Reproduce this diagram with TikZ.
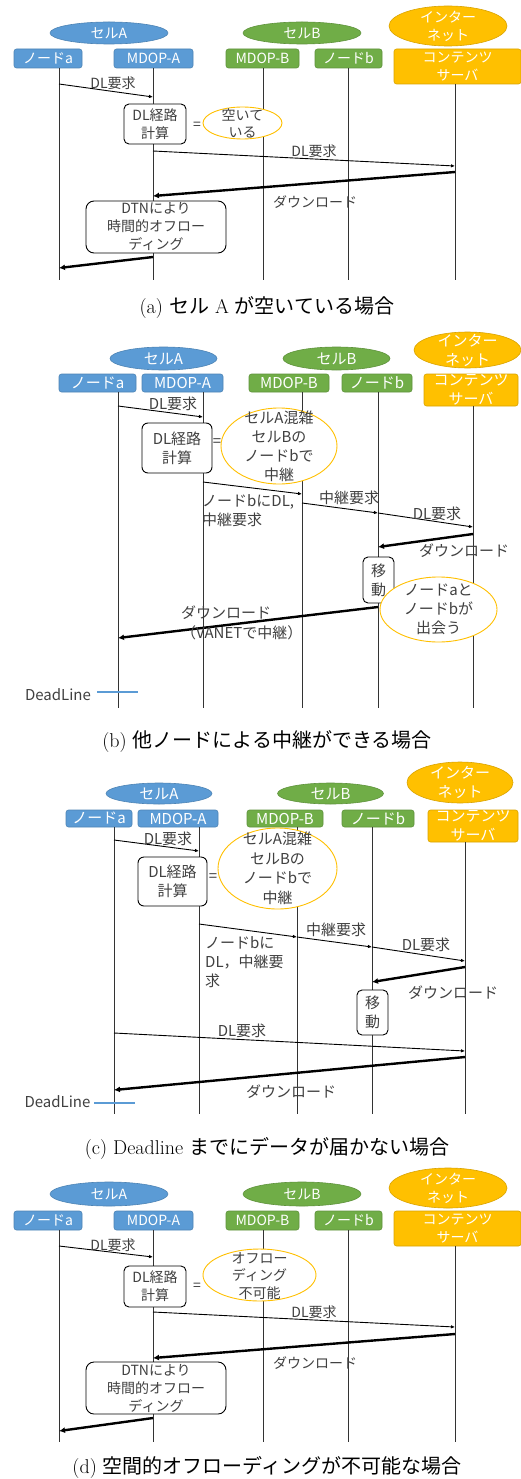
\documentclass[tikz,border=0pt]{standalone}
\usepackage{fontspec}
\newfontfamily\jp{Noto Sans CJK JP}
\usetikzlibrary{shapes.geometric,arrows.meta}
\definecolor{cblue}{HTML}{5B9BD5}
\definecolor{cgreen}{HTML}{70AD47}
\definecolor{corange}{HTML}{FFC000}
\definecolor{txt}{HTML}{404040}
\tikzset{
  fa/.style={font=\jp\fontsize{14}{18}\selectfont},
  fb/.style={font=\jp\fontsize{15}{19}\selectfont},
  shp/.style={ellipse, inner sep=0pt, line width=0.6pt},
  elA/.style={shp, fill=cblue, draw=cblue!85!black},
  elB/.style={shp, fill=cgreen, draw=cgreen!85!black},
  elI/.style={shp, fill=corange, draw=corange!85!black},
  wtxt/.style={text=white, inner sep=0pt, align=center},
  actor/.style={rectangle, rounded corners=2.5pt, inner sep=0pt, text=white, align=center, line width=0.6pt},
  acA/.style={actor, fill=cblue, draw=cblue!85!black},
  acB/.style={actor, fill=cgreen, draw=cgreen!85!black},
  acI/.style={actor, fill=corange, draw=corange!85!black},
  life/.style={draw=black!80, line width=0.8pt},
  msg/.style={draw=black, line width=0.9pt, -{Latex[length=4pt,width=3.5pt]}},
  dl/.style={draw=black, line width=2.4pt, -{Latex[length=6pt,width=6pt]}},
  proc/.style={rectangle, draw=black, fill=white, line width=0.9pt, align=center, text=txt, inner sep=0pt},
  note/.style={ellipse, draw=corange, fill=white, line width=0.9pt, inner sep=0pt},
  lbl/.style={text=txt, inner sep=0pt, align=center},
  lbll/.style={text=txt, inner sep=0pt, align=left, anchor=north west},
  capt/.style={inner sep=0pt, font=\fontsize{20}{24}\selectfont, text=black},
  dead/.style={draw=cblue, line width=2pt},
}
\begin{document}
\begin{tikzpicture}[x=1pt,y=-1pt]
\useasboundingbox (0,0) rectangle (521,1479);
\fill[white] (0,0) rectangle (521,1479);

%================ panel (a)
\begin{scope}[fa]
\node[elA, minimum width=118pt, minimum height=22pt] (a-cA) at (109,33) {};
\node[wtxt] (a-cAt) at (a-cA) {セルA};
\node[elB, minimum width=118pt, minimum height=22pt] (a-cB) at (302,33) {};
\node[wtxt] (a-cBt) at (a-cB) {セルB};
\node[elI, minimum width=118pt, minimum height=40pt] (a-cI) at (448,26) {};
\node[wtxt] (a-cIt) at (a-cI) {インター\\ネット};
\node[acA, minimum width=68pt, minimum height=19pt] (a-na) at (48,58.5) {ノードa};
\node[acA, minimum width=79pt, minimum height=19pt] (a-ma) at (153.5,58.5) {MDOP-A};
\node[acB, minimum width=73pt, minimum height=19pt] (a-mb) at (262.5,58.5) {MDOP-B};
\node[acB, minimum width=67pt, minimum height=19pt] (a-nb) at (348.5,58.5) {ノードb};
\node[acI, minimum width=127pt, minimum height=35pt] (a-cs) at (457.5,66.5) {コンテンツ\\サーバ};
\coordinate (a-l1) at (59,280);
\coordinate (a-l2) at (153,280);
\coordinate (a-l3) at (263,280);
\coordinate (a-l4) at (348,280);
\coordinate (a-l5) at (455,280);
\draw[life] (a-na.south -| a-l1) -- (a-l1);
\draw[life] (a-ma.south -| a-l2) -- (a-l2);
\draw[life] (a-mb.south -| a-l3) -- (a-l3);
\draw[life] (a-nb.south -| a-l4) -- (a-l4);
\draw[life] (a-cs.south -| a-l5) -- (a-l5);
\coordinate (a-p1) at (59,84);
\coordinate (a-p2) at (153,97);
\draw[msg] (a-p1) -- (a-p2);
\node[lbl] (a-t1) at (113,83) {DL要求};
\node[proc, rounded corners=5pt, minimum width=62pt, minimum height=40pt] (a-pr) at (155,124) {DL経路\\計算};
\node[lbl] (a-eq) at (197,126) {=};
\node[note, minimum width=79pt, minimum height=32pt] (a-nt) at (242.5,123) {};
\node[lbl, font=\jp\fontsize{14}{17}\selectfont] (a-ntt) at (a-nt) {空いて\\いる};
\coordinate (a-p3) at (153,151);
\coordinate (a-p4) at (455,166);
\draw[msg] (a-p3) -- (a-p4);
\node[lbl] (a-t2) at (314,151) {DL要求};
\coordinate (a-p5) at (455,172);
\coordinate (a-p6) at (153,196);
\draw[dl] (a-p5) -- (a-p6);
\node[lbl] (a-t3) at (315,202) {ダウンロード};
\node[proc, rounded corners=8pt, minimum width=140pt, minimum height=52pt] (a-dtn) at (156,227) {DTNにより\\時間的オフロー\\ディング};
\coordinate (a-p7) at (153,257);
\coordinate (a-p8) at (59,268);
\draw[dl] (a-p7) -- (a-p8);
\end{scope}
\node[capt] (a-cap) at (267,308) {(a) {\jp セル} A {\jp が空いている場合}};

%================ panel (b)
\begin{scope}[fb]
\node[elA, minimum width=107pt, minimum height=23pt] (b-cA) at (163.5,358.5) {};
\node[wtxt] (b-cAt) at (b-cA) {セルA};
\node[elB, minimum width=107pt, minimum height=23pt] (b-cB) at (336.5,358.5) {};
\node[wtxt] (b-cBt) at (b-cB) {セルB};
\node[elI, minimum width=107pt, minimum height=36pt] (b-cI) at (467.5,350) {};
\node[wtxt] (b-cIt) at (b-cI) {インター\\ネット};
\node[acA, minimum width=77pt, minimum height=18pt] (b-na) at (97.5,383) {ノードa};
\node[acA, minimum width=81pt, minimum height=18pt] (b-ma) at (182.5,383) {MDOP-A};
\node[acB, minimum width=80pt, minimum height=18pt] (b-mb) at (289,383) {MDOP-B};
\node[acB, minimum width=70pt, minimum height=18pt] (b-nb) at (377,383) {ノードb};
\node[acI, minimum width=94pt, minimum height=32pt] (b-cs) at (471,390) {コンテンツ\\サーバ};
\coordinate (b-l1) at (118,708);
\coordinate (b-l2) at (203,708);
\coordinate (b-l3) at (302,708);
\coordinate (b-l4) at (378,708);
\coordinate (b-l5) at (473,708);
\draw[life] (b-na.south -| b-l1) -- (b-l1);
\draw[life] (b-ma.south -| b-l2) -- (b-l2);
\draw[life] (b-mb.south -| b-l3) -- (b-l3);
\draw[life] (b-nb.south -| b-l4) -- (b-l4);
\draw[life] (b-cs.south -| b-l5) -- (b-l5);
\coordinate (b-p1) at (118,406);
\coordinate (b-p2) at (203,417);
\draw[msg] (b-p1) -- (b-p2);
\node[lbl] (b-t1) at (173,404) {DL要求};
\node[proc, rounded corners=6pt, minimum width=70pt, minimum height=50pt] (b-pr) at (177,448) {DL経路\\計算};
\node[lbl] (b-eq) at (217,443) {=};
\node[note, minimum width=116pt, minimum height=76pt] (b-nt) at (279,446) {};
\node[lbl] (b-ntt) at (b-nt) {セルA混雑\\セルBの\\ノードbで\\中継};
\coordinate (b-p3) at (203,482);
\coordinate (b-p4) at (302,494);
\draw[msg] (b-p3) -- (b-p4);
\node[lbll] (b-t2) at (202,494) {ノードbにDL,\\中継要求};
\coordinate (b-p5) at (302,503);
\coordinate (b-p6) at (378,513);
\draw[msg] (b-p5) -- (b-p6);
\node[lbl] (b-t3) at (349,498) {中継要求};
\coordinate (b-p7) at (473,527);
\draw[msg] (b-p6) -- (b-p7);
\node[lbl] (b-t4) at (437,514) {DL要求};
\coordinate (b-p8) at (473,534);
\coordinate (b-p9) at (378,547);
\draw[dl] (b-p8) -- (b-p9);
\node[lbl] (b-t5) at (464,551) {ダウンロード};
\node[proc, rounded corners=5pt, minimum width=31pt, minimum height=46pt] (b-mv) at (378.5,580) {移\\動};
\node[note, minimum width=117pt, minimum height=65pt] (b-nt2) at (438.5,609.5) {};
\node[lbl] (b-nt2t) at (b-nt2) {ノードaと\\ノードbが\\出会う};
\coordinate (b-p10) at (378,607);
\coordinate (b-p11) at (118,638);
\draw[dl] (b-p10) -- (b-p11);
\node[lbll, font=\jp\fontsize{15}{20}\selectfont] (b-t6) at (181,606) {ダウンロード\\（VANETで中継）};
\node[lbl] (b-dlt) at (58,695) {DeadLine};
\coordinate (b-d1) at (97,692);
\coordinate (b-d2) at (138,692);
\draw[dead] (b-d1) -- (b-d2);
\end{scope}
\node[capt] (b-cap) at (267,742) {(b) {\jp 他ノードによる中継ができる場合}};

%================ panel (c)
\begin{scope}[fb]
\node[elA, minimum width=106pt, minimum height=21pt] (c-cA) at (159,793.5) {};
\node[wtxt] (c-cAt) at (c-cA) {セルA};
\node[elB, minimum width=106pt, minimum height=21pt] (c-cB) at (330.5,793.5) {};
\node[wtxt] (c-cBt) at (c-cB) {セルB};
\node[elI, minimum width=106pt, minimum height=41pt] (c-cI) at (460,782.5) {};
\node[wtxt] (c-cIt) at (c-cI) {インター\\ネット};
\node[acA, minimum width=66pt, minimum height=17pt] (c-na) at (99,818.5) {ノードa};
\node[acA, minimum width=80pt, minimum height=17pt] (c-ma) at (178,818.5) {MDOP-A};
\node[acB, minimum width=76pt, minimum height=17pt] (c-mb) at (285,818.5) {MDOP-B};
\node[acB, minimum width=72pt, minimum height=17pt] (c-nb) at (378,818.5) {ノードb};
\node[acI, minimum width=90pt, minimum height=32pt] (c-cs) at (473,826) {コンテンツ\\サーバ};
\coordinate (c-l1) at (114,1114);
\coordinate (c-l2) at (199,1114);
\coordinate (c-l3) at (297,1114);
\coordinate (c-l4) at (372,1114);
\coordinate (c-l5) at (465,1114);
\draw[life] (c-na.south -| c-l1) -- (c-l1);
\draw[life] (c-ma.south -| c-l2) -- (c-l2);
\draw[life] (c-mb.south -| c-l3) -- (c-l3);
\draw[life] (c-nb.south -| c-l4) -- (c-l4);
\draw[life] (c-cs.south -| c-l5) -- (c-l5);
\coordinate (c-p1) at (114,840);
\coordinate (c-p2) at (199,851);
\draw[msg] (c-p1) -- (c-p2);
\node[lbl] (c-t1) at (168,839) {DL要求};
\node[proc, rounded corners=6pt, minimum width=69pt, minimum height=49pt] (c-pr) at (172.5,881.5) {DL経路\\計算};
\node[lbl] (c-eq) at (213,878) {=};
\node[note, minimum width=119pt, minimum height=81pt] (c-nt) at (277.5,868.5) {};
\node[lbl, font=\jp\fontsize{15}{19.5}\selectfont] (c-ntt) at (c-nt) {セルA混雑\\セルBの\\ノードbで\\中継};
\coordinate (c-p3) at (199,924);
\coordinate (c-p4) at (297,937);
\draw[msg] (c-p3) -- (c-p4);
\node[lbll] (c-t2) at (205,936) {ノードbに\\DL，中継要\\求};
\coordinate (c-p5) at (372,947);
\draw[msg] (c-p4) -- (c-p5);
\node[lbl] (c-t3) at (336,930) {中継要求};
\coordinate (c-p6) at (465,961);
\draw[msg] (c-p5) -- (c-p6);
\node[lbl] (c-t4) at (426,945) {DL要求};
\coordinate (c-p7) at (465,967);
\coordinate (c-p8) at (372,982);
\draw[dl] (c-p7) -- (c-p8);
\node[lbl] (c-t5) at (453,993) {ダウンロード};
\node[proc, rounded corners=5pt, minimum width=31pt, minimum height=45pt] (c-mv) at (372.5,1012.5) {移\\動};
\coordinate (c-p9) at (114,1033);
\coordinate (c-p10) at (465,1051);
\draw[msg] (c-p9) -- (c-p10);
\node[lbl] (c-t6) at (242,1031) {DL要求};
\coordinate (c-p11) at (465,1057);
\coordinate (c-p12) at (114,1090);
\draw[dl] (c-p11) -- (c-p12);
\node[lbl] (c-t7) at (291,1092) {ダウンロード};
\node[lbl] (c-dlt) at (57.5,1102) {DeadLine};
\coordinate (c-d1) at (94,1103);
\coordinate (c-d2) at (135,1103);
\draw[dead] (c-d1) -- (c-d2);
\end{scope}
\node[capt] (c-cap) at (267,1148) {(c) Deadline {\jp までにデータが届かない場合}};

%================ panel (d)
\begin{scope}[fa]
\node[elA, minimum width=118pt, minimum height=24pt] (d-cA) at (109,1194) {};
\node[wtxt] (d-cAt) at (d-cA) {セルA};
\node[elB, minimum width=118pt, minimum height=24pt] (d-cB) at (302,1194) {};
\node[wtxt] (d-cBt) at (d-cB) {セルB};
\node[elI, minimum width=118pt, minimum height=40pt] (d-cI) at (448,1188) {};
\node[wtxt] (d-cIt) at (d-cI) {インター\\ネット};
\node[acA, minimum width=68pt, minimum height=19pt] (d-na) at (48,1220.5) {ノードa};
\node[acA, minimum width=79pt, minimum height=19pt] (d-ma) at (153.5,1220.5) {MDOP-A};
\node[acB, minimum width=73pt, minimum height=19pt] (d-mb) at (262.5,1220.5) {MDOP-B};
\node[acB, minimum width=67pt, minimum height=19pt] (d-nb) at (348.5,1220.5) {ノードb};
\node[acI, minimum width=127pt, minimum height=35pt] (d-cs) at (457.5,1228.5) {コンテンツ\\サーバ};
\coordinate (d-l1) at (59,1442);
\coordinate (d-l2) at (153,1442);
\coordinate (d-l3) at (263,1442);
\coordinate (d-l4) at (348,1442);
\coordinate (d-l5) at (455,1442);
\draw[life] (d-na.south -| d-l1) -- (d-l1);
\draw[life] (d-ma.south -| d-l2) -- (d-l2);
\draw[life] (d-mb.south -| d-l3) -- (d-l3);
\draw[life] (d-nb.south -| d-l4) -- (d-l4);
\draw[life] (d-cs.south -| d-l5) -- (d-l5);
\coordinate (d-p1) at (59,1246);
\coordinate (d-p2) at (153,1257);
\draw[msg] (d-p1) -- (d-p2);
\node[lbl] (d-t1) at (113,1245) {DL要求};
\node[proc, rounded corners=5pt, minimum width=62pt, minimum height=41pt] (d-pr) at (155,1286.5) {DL経路\\計算};
\node[lbl] (d-eq) at (197,1287) {=};
\node[note, minimum width=113pt, minimum height=52pt] (d-nt) at (259.5,1275) {};
\node[lbl, font=\jp\fontsize{14}{17.5}\selectfont] (d-ntt) at (259.5,1276) {オフロー\\ディング\\不可能};
\coordinate (d-p3) at (153,1312);
\coordinate (d-p4) at (455,1327);
\draw[msg] (d-p3) -- (d-p4);
\node[lbl] (d-t2) at (314,1312) {DL要求};
\coordinate (d-p5) at (455,1334);
\coordinate (d-p6) at (153,1358);
\draw[dl] (d-p5) -- (d-p6);
\node[lbl] (d-t3) at (315,1363) {ダウンロード};
\node[proc, rounded corners=8pt, minimum width=140pt, minimum height=52pt] (d-dtn) at (156,1388) {DTNにより\\時間的オフロー\\ディング};
\coordinate (d-p7) at (153,1418);
\coordinate (d-p8) at (59,1431);
\draw[dl] (d-p7) -- (d-p8);
\end{scope}
\node[capt] (d-cap) at (267,1467) {(d) {\jp 空間的オフローディングが不可能な場合}};
\end{tikzpicture}
\end{document}
